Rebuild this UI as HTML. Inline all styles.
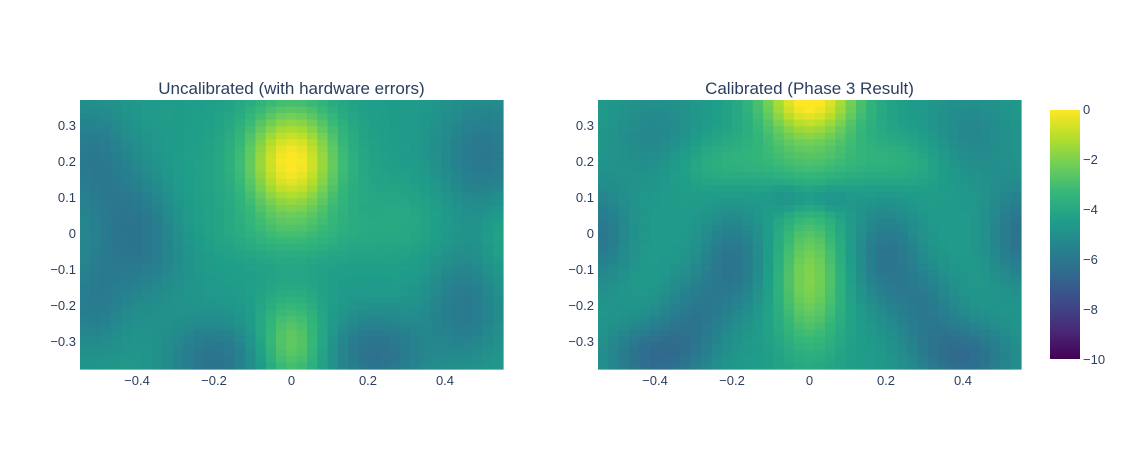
<!DOCTYPE html>
<html><head><meta charset="utf-8"><style>
body{margin:0;background:#fff;width:1127px;height:450px;overflow:hidden}
svg{display:block}
text{font-family:"Liberation Sans",sans-serif;fill:#2a3f5f}
</style></head><body>
<svg id="s" width="1127" height="450" xmlns="http://www.w3.org/2000/svg">
<defs>
<linearGradient id="cb" x1="0" y1="1" x2="0" y2="0">
<stop offset="0" stop-color="#440154"/><stop offset="0.111" stop-color="#482878"/><stop offset="0.222" stop-color="#3e4989"/><stop offset="0.333" stop-color="#31688e"/><stop offset="0.444" stop-color="#26828e"/><stop offset="0.556" stop-color="#1f9e89"/><stop offset="0.667" stop-color="#35b779"/><stop offset="0.778" stop-color="#6ece58"/><stop offset="0.889" stop-color="#b5de2b"/><stop offset="1" stop-color="#fde725"/>
</linearGradient>
</defs>
<g id="h1"></g><g id="h2"></g>
<text x="291.5" y="94" text-anchor="middle" font-size="17">Uncalibrated (with hardware errors)</text>
<text x="809.5" y="94" text-anchor="middle" font-size="17">Calibrated (Phase 3 Result)</text>
<g font-size="13" text-anchor="middle">
<text x="137" y="385">−0.4</text><text x="214" y="385">−0.2</text><text x="291.5" y="385">0</text><text x="368" y="385">0.2</text><text x="445" y="385">0.4</text>
<text x="655" y="385">−0.4</text><text x="732" y="385">−0.2</text><text x="809.5" y="385">0</text><text x="886" y="385">0.2</text><text x="963" y="385">0.4</text>
</g>
<g font-size="13" text-anchor="end">
<text x="76" y="130">0.3</text><text x="76" y="166">0.2</text><text x="76" y="202">0.1</text><text x="76" y="238">0</text><text x="76" y="274">−0.1</text><text x="76" y="310">−0.2</text><text x="76" y="346">−0.3</text>
<text x="594" y="130">0.3</text><text x="594" y="166">0.2</text><text x="594" y="202">0.1</text><text x="594" y="238">0</text><text x="594" y="274">−0.1</text><text x="594" y="310">−0.2</text><text x="594" y="346">−0.3</text>
</g>
<rect x="1050" y="110" width="30" height="249" fill="url(#cb)"/>
<g font-size="13">
<text x="1083" y="114">0</text><text x="1083" y="164">−2</text><text x="1083" y="214">−4</text><text x="1083" y="264">−6</text><text x="1083" y="314">−8</text><text x="1083" y="364">−10</text>
</g>
</svg>
<script>
var V=[[68,1,84],[72,40,120],[62,73,137],[49,104,142],[38,130,142],[31,158,137],[53,183,121],[110,206,88],[181,222,43],[253,231,37]];
function col(v){var t=(v+10)/10;t=Math.max(0,Math.min(1,t))*9;var i=Math.min(8,Math.floor(t)),f=t-i;var a=V[i],b=V[i+1];
return "rgb("+[0,1,2].map(k=>Math.round(a[k]+(b[k]-a[k])*f)).join(",")+")";}
function g(x,y,cx,cy,sx,sy,a){return a*Math.exp(-((x-cx)*(x-cx))/(2*sx*sx)-((y-cy)*(y-cy))/(2*sy*sy));}
var L=[[0,0.2,0.085,0.11,4.6],[0,-0.3,0.06,0.09,2.2],[0,0.0,0.15,0.05,0.6],
[-0.4,0.0,0.09,0.13,-1.7],[-0.2,-0.35,0.09,0.08,-1.7],[0.22,-0.33,0.09,0.08,-1.8],[0.5,0.22,0.09,0.12,-1.5],[-0.52,0.22,0.07,0.11,-1.3],[0.45,-0.2,0.07,0.11,-1.4],[-0.52,-0.2,0.06,0.1,-1.1],
[0.3,0.05,0.09,0.09,0.5],[-0.28,0.1,0.07,0.1,0.4],[0.55,0.0,0.04,0.08,0.6]];
var R=[[0,0.38,0.09,0.09,4.8],[0,-0.12,0.06,0.14,2.6],[0,0.2,0.2,0.05,0.8],
[-0.4,-0.34,0.09,0.07,-2.0],[0.4,-0.34,0.09,0.07,-2.0],[-0.3,-0.22,0.06,0.08,-1.2],[0.3,-0.2,0.06,0.08,-1.2],[-0.2,-0.08,0.06,0.1,-1.6],[0.2,-0.06,0.06,0.1,-1.6],[-0.55,0.0,0.06,0.1,-1.5],[0.55,0.0,0.06,0.1,-1.7],[-0.4,0.27,0.08,0.09,-0.9],[0.42,0.27,0.08,0.09,-0.9],
[-0.25,0.2,0.08,0.06,0.5],[0.25,0.2,0.08,0.06,0.5],[-0.05,0.1,0.04,0.03,-0.9],[0.05,0.1,0.04,0.03,-0.9]];
function draw(id,x0,B,base){var h="",N=41,M=41,w=423/N,hh=269/M;
for(var i=0;i<N;i++)for(var j=0;j<M;j++){var x=-0.55+1.1*(i+0.5)/N,y=0.373-0.746*(j+0.5)/M,v=base;
B.forEach(b=>v+=g(x,y,b[0],b[1],b[2],b[3],b[4]));v=Math.min(0,v);
h+='<rect x="'+(x0+i*w).toFixed(2)+'" y="'+(100+j*hh).toFixed(2)+'" width="'+(w+0.6).toFixed(2)+'" height="'+(hh+0.6).toFixed(2)+'" fill="'+col(v)+'"/>';}
document.getElementById(id).innerHTML=h;}
draw("h1",80,L,-4.5);draw("h2",598,R,-4.5);
</script>
</body></html>
